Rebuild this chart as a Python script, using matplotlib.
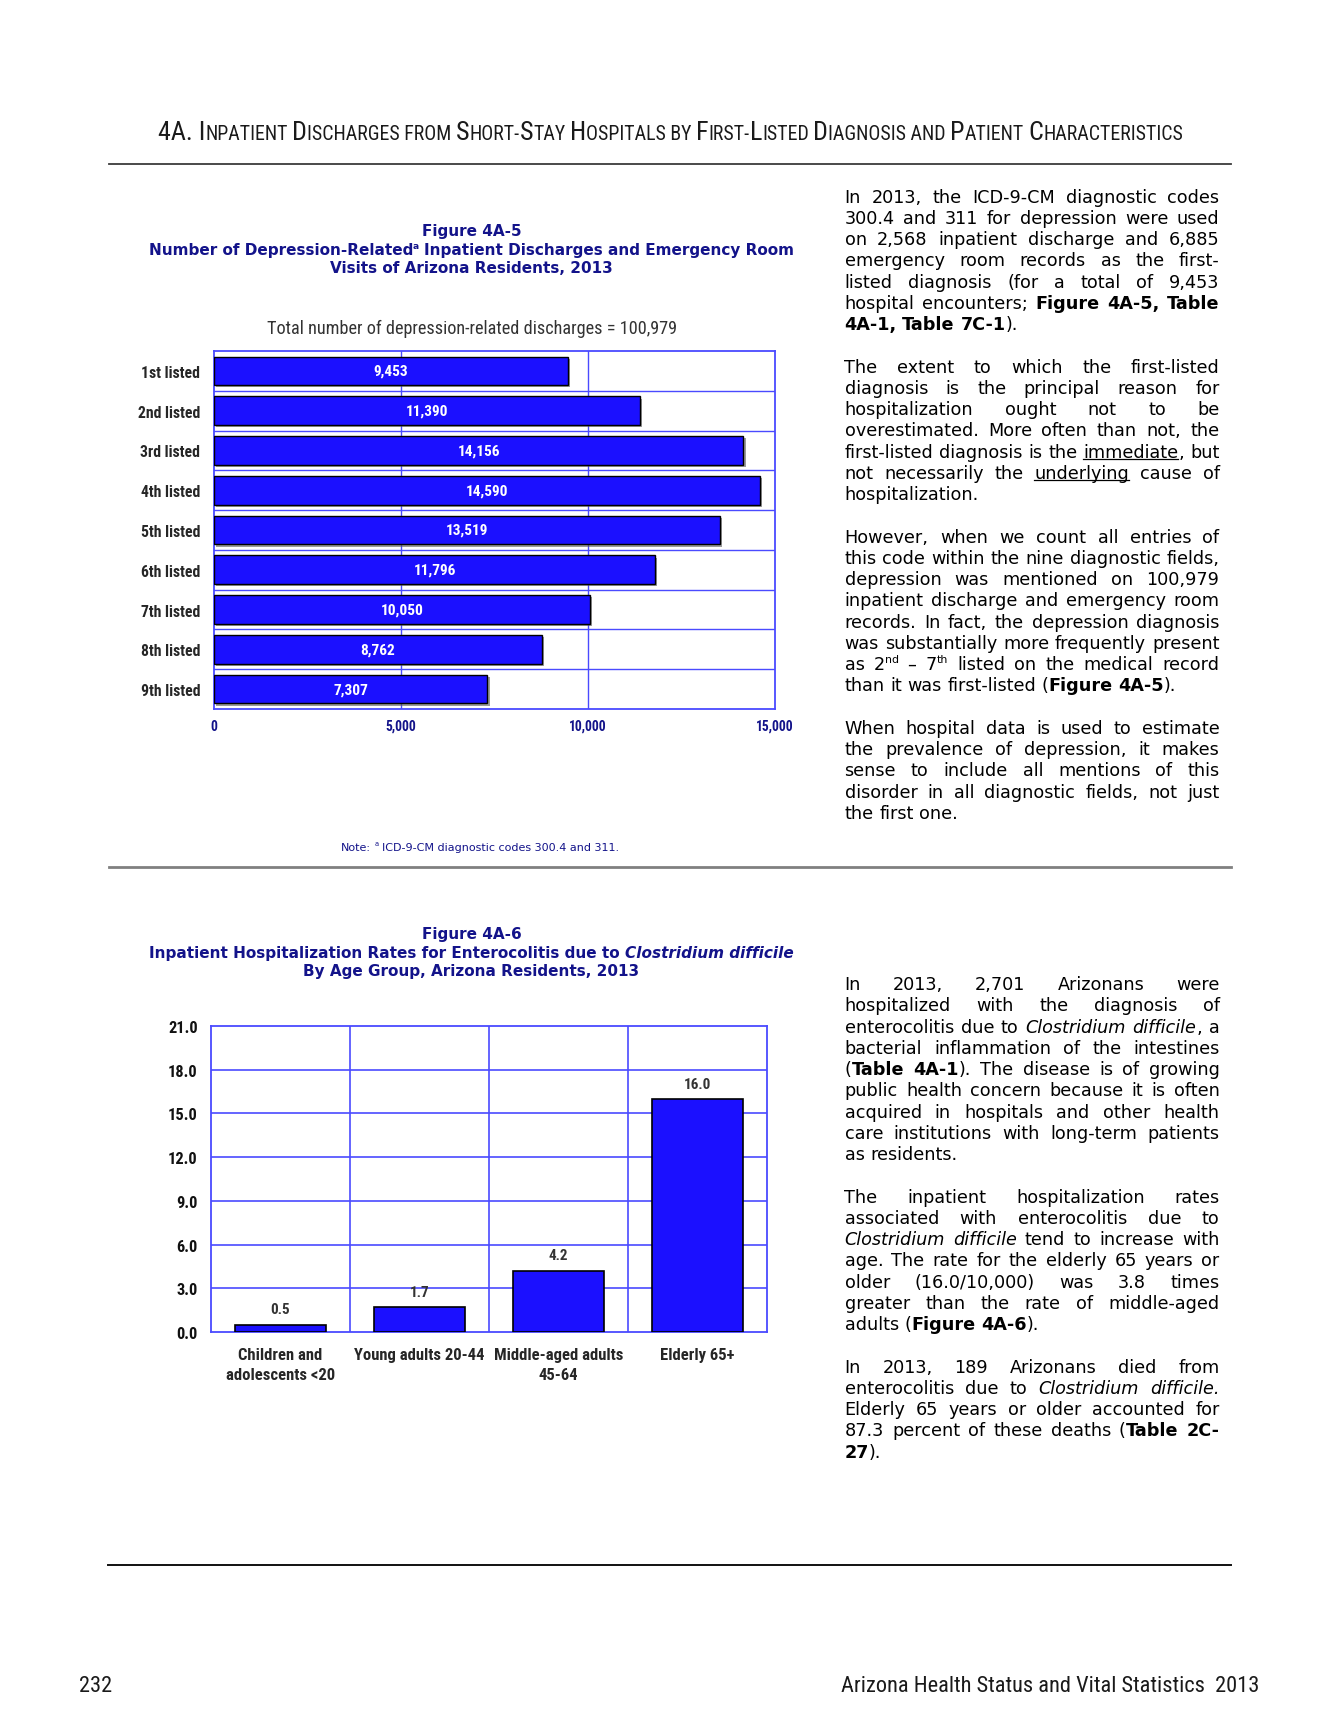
import numpy as np
import matplotlib
matplotlib.use("Agg")
import matplotlib.pyplot as plt
import matplotlib.patheffects as pe
from matplotlib.font_manager import FontProperties

W, H = 1338, 1731

# ---- chart data ----
listed_labels = ["1st listed", "2nd listed", "3rd listed", "4th listed", "5th listed",
                 "6th listed", "7th listed", "8th listed", "9th listed"]
listed_counts = [9453, 11390, 14156, 14590, 13519, 11796, 10050, 8762, 7307]
count_ticks = [0, 5000, 10000, 15000]
total_mentions = 100979

age_groups = ["Children and\nadolescents <20", "Young adults 20-44",
              "Middle-aged adults\n45-64", "Elderly 65+"]
cdiff_rates = [0.5, 1.7, 4.2, 16.0]
rate_ticks = [0, 3, 6, 9, 12, 15, 18, 21]

# ---- page text (#bold#, %italic%, _underline_, ^superscript^) ----
header_text = ("4A. Inpatient Discharges from Short-Stay Hospitals by "
               "First-Listed Diagnosis and Patient Characteristics")
footer_left = "232"
footer_right = "Arizona Health Status and Vital Statistics  2013"

col1_paras = [
    ["In 2013, the ICD-9-CM diagnostic codes",
     "300.4 and 311 for depression were used",
     "on 2,568 inpatient discharge and 6,885",
     "emergency room records as the first-",
     "listed diagnosis (for a total of 9,453",
     "hospital encounters; #Figure 4A-5, Table#",
     "#4A-1, Table 7C-1#)."],
    ["The extent to which the first-listed",
     "diagnosis is the principal reason for",
     "hospitalization ought not to be",
     "overestimated. More often than not, the",
     "first-listed diagnosis is the _immediate_, but",
     "not necessarily the _underlying_ cause of",
     "hospitalization."],
    ["However, when we count all entries of",
     "this code within the nine diagnostic fields,",
     "depression was mentioned on 100,979",
     "inpatient discharge and emergency room",
     "records. In fact, the depression diagnosis",
     "was substantially more frequently present",
     "as 2^nd^ \u2013 7^th^ listed on the medical record",
     "than it was first-listed (#Figure 4A-5#)."],
    ["When hospital data is used to estimate",
     "the prevalence of depression, it makes",
     "sense to include all mentions of this",
     "disorder in all diagnostic fields, not just",
     "the first one."],
]

col2_paras = [
    ["In 2013, 2,701 Arizonans were",
     "hospitalized with the diagnosis of",
     "enterocolitis due to %Clostridium difficile%, a",
     "bacterial inflammation of the intestines",
     "(#Table 4A-1#). The disease is of growing",
     "public health concern because it is often",
     "acquired in hospitals and other health",
     "care institutions with long-term patients",
     "as residents."],
    ["The inpatient hospitalization rates",
     "associated with enterocolitis due to",
     "%Clostridium difficile% tend to increase with",
     "age.  The rate for the elderly 65 years or",
     "older (16.0/10,000) was 3.8 times",
     "greater than the rate of middle-aged",
     "adults (#Figure 4A-6#)."],
    ["In 2013, 189 Arizonans died from",
     "enterocolitis due to %Clostridium difficile.%",
     "Elderly 65 years or older accounted for",
     "87.3 percent of these deaths (#Table 2C-#",
     "#27#)."],
]

BAR_BLUE = "#1b10ff"
GRID_BLUE = "#4a4aff"
NAVY = "#13138a"
DARK = "#262626"
BODY_FONT = ["DejaVu Sans"]
CHART_FONT = ["Liberation Sans Narrow", "Roboto Condensed", "Liberation Sans", "DejaVu Sans"]

fig = plt.figure(figsize=(W / 100, H / 100), dpi=100)
page = fig.add_axes([0, 0, 1, 1])
page.set_xlim(0, W)
page.set_ylim(H, 0)
page.axis("off")
renderer = fig.canvas.get_renderer()


def font(family, size, weight="normal", style="normal"):
    return FontProperties(family=family, size=size, weight=weight, style=style)


_cache = {}


def tw(s, fp):
    # advance width of s in pixels (bars around it keep spaces counted)
    key = (s, fp)
    if key not in _cache:
        t = page.text(0, 0, "|" + s + "|", fontproperties=fp)
        w = t.get_window_extent(renderer).width
        t.remove()
        if s != "":
            w -= tw("", fp)
        _cache[key] = w
    return _cache[key]


def run_width(runs):
    return sum(tw(r[0], r[1]) for r in runs)


def draw_runs(runs, x, y, ha="left"):
    # runs: (text, fontprops, dy, color, underline)
    total = run_width(runs)
    if ha == "center":
        x -= total / 2
    elif ha == "right":
        x -= total
    for text, fp, dy, color, ul in runs:
        w = tw(text, fp)
        body = text.lstrip(" ")
        lead = tw(text[:len(text) - len(body)], fp) if body != text else 0
        if body.strip():
            page.text(x + lead, y + dy, body.rstrip(" "), fontproperties=fp,
                      color=color, ha="left", va="baseline")
        if ul:
            page.plot([x, x + w], [y + 2.5, y + 2.5], color=color, lw=0.9)
        x += w
    return total


def fit_size(make_runs, target):
    return 10 * target / run_width(make_runs(10))


def fit_text(s, target, weight="normal", family=CHART_FONT):
    return fit_size(lambda z: [(s, font(family, z, weight), 0, "k", False)], target)


# ---- header / footer ----
def header_runs(size):
    groups = []
    for ch in header_text:
        small = ch.islower() or (ch in " -" and groups and groups[-1][1])
        if groups and groups[-1][1] == small:
            groups[-1][0] += ch.upper()
        else:
            groups.append([ch.upper(), small])
    return [(g, font(CHART_FONT, size * (0.76 if s else 1.0)), 0, "#1a1a1a", False)
            for g, s in groups]


hs = fit_size(header_runs, 1015)
draw_runs(header_runs(hs), 670.5, 131 + 0.36 * hs * 100 / 72, ha="center")

page.plot([108.5, 1231], [164.6, 164.6], color="#3a3a3a", lw=1.3)
page.plot([108.5, 1231], [867.5, 867.5], color="#808080", lw=2.0)
page.plot([107.5, 1231], [1566.5, 1566.5], color="#111111", lw=1.4)

fs_foot = fit_text(footer_right, 415)
draw_runs([(footer_right, font(CHART_FONT, fs_foot), 0, "#1a1a1a", False)], 1259.5, 1692, ha="right")
draw_runs([(footer_left, font(CHART_FONT, fs_foot), 0, "#1a1a1a", False)], 79.5, 1692)


# ---- figure titles ----
def title2_runs(size):
    b = font(BODY_FONT, size, "bold")
    return [("Number of Depression-Related", b, 0, NAVY, False),
            ("a", font(BODY_FONT, size * 0.6, "bold"), -0.4 * size * 100 / 72, NAVY, False),
            (" Inpatient Discharges and Emergency Room", b, 0, NAVY, False)]


TX = 471.5
ts = fit_size(title2_runs, 650)
tb = font(BODY_FONT, ts, "bold")
ti = font(BODY_FONT, ts, "bold", "italic")
base = 0.36 * ts * 100 / 72
draw_runs([("Figure 4A-5", tb, 0, NAVY, False)], TX, 230.2 + base, ha="center")
draw_runs(title2_runs(ts), TX, 249.2 + base, ha="center")
draw_runs([("Visits of Arizona Residents, 2013", tb, 0, NAVY, False)], TX, 267.7 + base, ha="center")

draw_runs([("Figure 4A-6", tb, 0, NAVY, False)], TX, 933.6 + base, ha="center")
draw_runs([("Inpatient Hospitalization Rates for Enterocolitis due to ", tb, 0, NAVY, False),
           ("Clostridium difficile", ti, 0, NAVY, False)], TX, 952.1 + base, ha="center")
draw_runs([("By Age Group, Arizona Residents, 2013", tb, 0, NAVY, False)], TX, 970.6 + base, ha="center")

sub = "Total number of depression-related discharges = {:,}".format(total_mentions)
ss = fit_text(sub, 409)
draw_runs([(sub, font(CHART_FONT, ss), 0, "#333333", False)], 472, 327.5 + 0.36 * ss * 100 / 72, ha="center")


def note_runs(size):
    f = font(BODY_FONT, size)
    return [("Note: ", f, 0, NAVY, False),
            ("a", font(BODY_FONT, size * 0.6), -0.4 * size * 100 / 72, NAVY, False),
            (" ICD-9-CM diagnostic codes 300.4 and 311.", f, 0, NAVY, False)]


ns = fit_size(note_runs, 279)
draw_runs(note_runs(ns), 480, 846.5 + 0.36 * ns * 100 / 72, ha="center")

# ---- justified body text ----
MARK = {"#": "b", "%": "i", "_": "u", "^": "s"}


def parse(line):
    words, cur, flags = [], [], set()
    seg = ""
    for ch in line + " ":
        if ch in MARK or ch == " ":
            if seg:
                cur.append((seg, frozenset(flags)))
                seg = ""
            if ch == " ":
                if cur:
                    words.append(cur)
                cur = []
            else:
                flags ^= {MARK[ch]}
        else:
            seg += ch
    return words


def body_fp(flags, fs):
    return font(BODY_FONT, fs * (0.62 if "s" in flags else 1.0),
                weight="bold" if "b" in flags else "normal",
                style="italic" if "i" in flags else "normal")


def word_runs(word, fs):
    return [(t, body_fp(fl, fs), (-0.42 * fs * 100 / 72 if "s" in fl else 0), "black", "u" in fl)
            for t, fl in word]


COL_X, COL_W, LINE = 844.5, 375, 21.25


def natural_max(fs):
    sp = tw(" ", body_fp(frozenset(), fs))
    m = 0
    for paras in (col1_paras, col2_paras):
        for lines in paras:
            for line in lines[:-1]:
                ws = parse(line)
                m = max(m, sum(run_width(word_runs(w, fs)) for w in ws) + sp * (len(ws) - 1))
    return m


fs_body = 10 * COL_W * 0.995 / natural_max(10)


def draw_column(paras, y0):
    sp = tw(" ", body_fp(frozenset(), fs_body))
    y = y0 + 0.34 * fs_body * 100 / 72
    for lines in paras:
        for i, line in enumerate(lines):
            ws = parse(line)
            widths = [run_width(word_runs(w, fs_body)) for w in ws]
            gap = sp
            if i < len(lines) - 1 and len(ws) > 1:
                gap = (COL_W - sum(widths)) / (len(ws) - 1)
            x = COL_X
            for w, ww in zip(ws, widths):
                draw_runs(word_runs(w, fs_body), x, y)
                x += ww + gap
            y += LINE
        y += LINE


draw_column(col1_paras, 196.5)
draw_column(col2_paras, 984)


# ---- charts ----
def px_axes(left, top, right, bottom):
    return fig.add_axes([left / W, 1 - bottom / H, (right - left) / W, (bottom - top) / H])


def style_frame(ax):
    for s in ax.spines.values():
        s.set_color(GRID_BLUE)
        s.set_linewidth(1.3)
    ax.tick_params(length=0)


# label sizes matched to the widths of reference labels
cat_size = fit_text("2nd listed", 63, "bold")
val_size = fit_text("11,390", 43, "bold")
xt_size = fit_text("10,000", 37.6, "bold")
yt2_size = fit_text("21.0", 29.8, "bold")
val2_size = fit_text("16.0", 27.6, "bold")
xl2_size = fit_text("Young adults 20-44", 131, "bold")

# Figure 4A-5: horizontal bars
ax1 = px_axes(214, 352, 775, 710)
pos = np.arange(len(listed_labels))
bars = ax1.barh(pos, listed_counts, height=0.72, color=BAR_BLUE, edgecolor="black",
                linewidth=1.0, zorder=3)
for b in bars:
    b.set_path_effects([pe.SimplePatchShadow(offset=(1.6, -1.6), shadow_rgbFace="0.35", alpha=0.6),
                        pe.Normal()])
for i, v in enumerate(listed_counts):
    ax1.text(v / 2, i, "{:,}".format(v), ha="center", va="center", color="white",
             fontproperties=font(CHART_FONT, val_size, "bold"), zorder=4)
ax1.set_xlim(count_ticks[0], count_ticks[-1])
ax1.set_ylim(len(listed_labels) - 0.5, -0.5)
for y in np.arange(0.5, len(listed_labels) - 1, 1):
    ax1.axhline(y, color=GRID_BLUE, lw=1.0, zorder=1)
for t in count_ticks[1:-1]:
    ax1.axvline(t, color=GRID_BLUE, lw=1.0, zorder=1)
ax1.set_xticks(count_ticks)
ax1.set_xticklabels(["{:,}".format(t) for t in count_ticks],
                    fontproperties=font(CHART_FONT, xt_size, "bold"), color=NAVY)
ax1.set_yticks(pos)
ax1.set_yticklabels(listed_labels, fontproperties=font(CHART_FONT, cat_size, "bold"), color=DARK)
style_frame(ax1)
ax1.tick_params(axis="x", pad=7)
ax1.tick_params(axis="y", pad=10)

# Figure 4A-6: columns
ax2 = px_axes(211, 1027, 767, 1333)
xpos = np.arange(len(age_groups))
ax2.bar(xpos, cdiff_rates, width=0.66, color=BAR_BLUE, edgecolor="black", linewidth=1.2, zorder=3)
for i, v in enumerate(cdiff_rates):
    ax2.annotate("{:.1f}".format(v), (i, v), xytext=(0, 6), textcoords="offset points",
                 ha="center", va="bottom", color="#333333",
                 fontproperties=font(CHART_FONT, val2_size, "bold"))
ax2.set_xlim(-0.5, len(age_groups) - 0.5)
ax2.set_ylim(rate_ticks[0], rate_ticks[-1])
for x in np.arange(0.5, len(age_groups) - 1, 1):
    ax2.axvline(x, color=GRID_BLUE, lw=1.2, zorder=1)
for t in rate_ticks[1:-1]:
    ax2.axhline(t, color=GRID_BLUE, lw=1.2, zorder=1)
ax2.set_yticks(rate_ticks)
ax2.set_yticklabels(["{:.1f}".format(t) for t in rate_ticks],
                    fontproperties=font(CHART_FONT, yt2_size, "bold"), color="#111111")
ax2.set_xticks(xpos)
ax2.set_xticklabels(age_groups, fontproperties=font(CHART_FONT, xl2_size, "bold"), color=DARK,
                    linespacing=23.5 / (xl2_size * 100 / 72))
style_frame(ax2)
ax2.tick_params(axis="x", pad=11)
ax2.tick_params(axis="y", pad=9.6)

fig.savefig("out.png", dpi=100)
